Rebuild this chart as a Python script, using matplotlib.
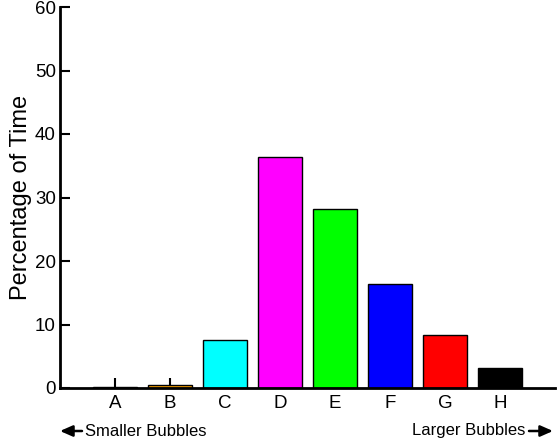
import matplotlib
matplotlib.use("Agg")
import matplotlib.pyplot as plt
from matplotlib.patches import FancyArrowPatch

categories = ["A", "B", "C", "D", "E", "F", "G", "H"]
percent_time = [0.1, 0.4, 7.6, 36.4, 28.2, 16.4, 8.3, 3.1]
bar_colors = ["#800080", "#FFA500", "#00FFFF", "#FF00FF", "#00FF00", "#0000FF", "#FF0000", "#000000"]
y_ticks = [0, 10, 20, 30, 40, 50, 60]

plt.rcParams["font.family"] = ["Liberation Sans", "DejaVu Sans"]

W, H = 557, 445
fig = plt.figure(figsize=(W / 100, H / 100), dpi=100)
ax = fig.add_axes([60 / W, (H - 388) / H, (555 - 60) / W, (388 - 7) / H])

x = list(range(len(categories)))
ax.bar(x, percent_time, width=0.8, color=bar_colors, edgecolor="black", linewidth=1, zorder=3)

ax.set_xlim(-1, 8)
ax.set_ylim(0, 60)
ax.set_xticks(x)
ax.set_xticklabels(categories)
ax.set_yticks(y_ticks)

for side in ("top", "right"):
    ax.spines[side].set_visible(False)
for side in ("left", "bottom"):
    ax.spines[side].set_linewidth(2)
    ax.spines[side].set_zorder(4)

ax.tick_params(axis="both", direction="in", width=1.5, length=7, labelsize=13.5)
ax.tick_params(axis="y", pad=3)
ax.tick_params(axis="x", pad=5)
ax.set_ylabel("Percentage of Time", fontsize=17, labelpad=2)

# Direction hints under the category axis
ty = 1 - 431 / H
fig.text(85 / W, ty, "Smaller Bubbles", fontsize=12, va="center", ha="left")
fig.text(525 / W, ty, "Larger Bubbles", fontsize=12, va="center", ha="right")
for start, end in (((82, 431), (60, 431)), ((529, 431), (553, 431))):
    fig.patches.append(FancyArrowPatch(
        (start[0] / W, 1 - start[1] / H), (end[0] / W, 1 - end[1] / H),
        transform=fig.transFigure, arrowstyle="-|>,head_length=5,head_width=2.2",
        mutation_scale=1.5, color="black", lw=1.8, shrinkA=0, shrinkB=0))

fig.savefig("out.png", dpi=100)
